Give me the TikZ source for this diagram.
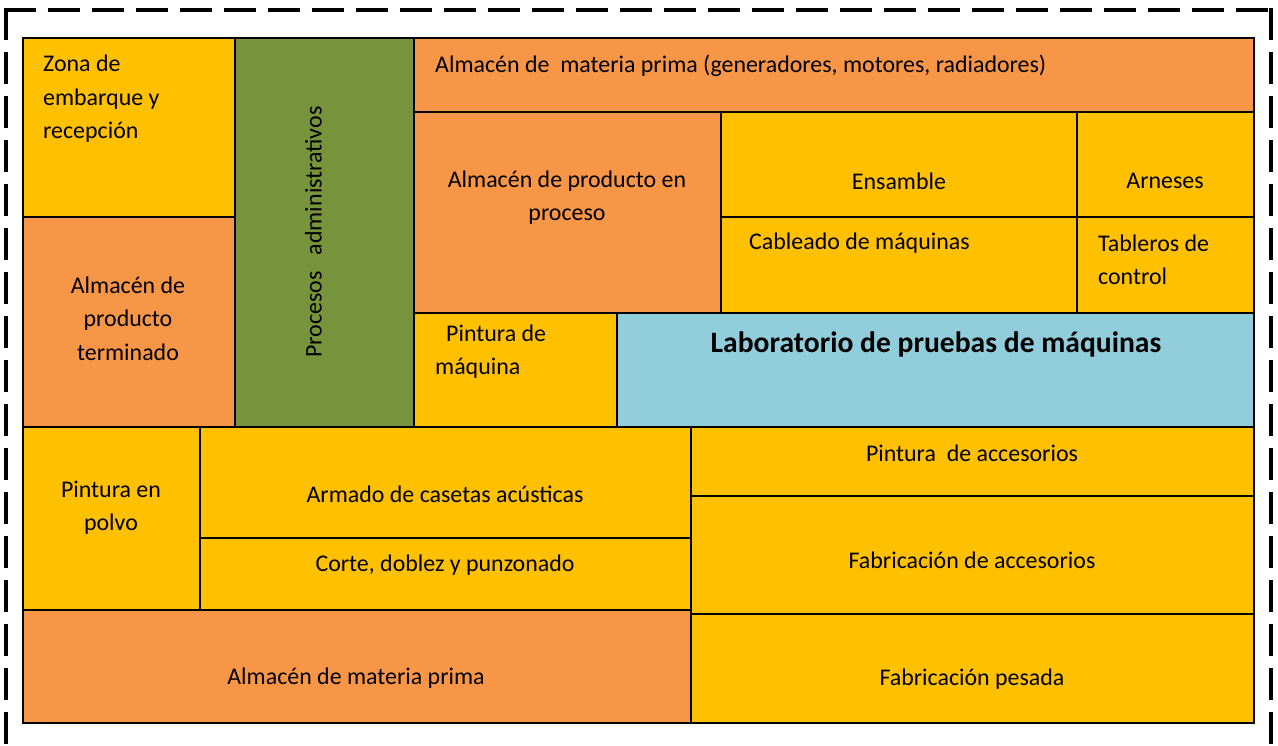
\documentclass[tikz,border=0pt]{standalone}
\usepackage{fontspec}
\setmainfont{Carlito}
\usetikzlibrary{positioning}
\definecolor{amarillo}{RGB}{255,192,0}
\definecolor{naranja}{RGB}{247,150,70}
\definecolor{verde}{RGB}{119,147,60}
\definecolor{celeste}{RGB}{146,205,220}
\tikzset{zona/.style={draw,line width=2pt},
	etiqueta/.style={font=\fontsize{23.9}{33.5}\selectfont,align=center,inner sep=0pt},
	marco/.style={line width=4pt,dash pattern=on 32pt off 12pt},
}

\begin{document}
\begin{tikzpicture}[x=1pt,y=-1pt]
		\useasboundingbox (0,0) rectangle (1278,746);
		% marco punteado
		\draw[marco] (5.5,8.3) -- (5.5,780);
		\draw[marco] (3.5,10.3) -- (1272,10.3);
		\draw[marco] (1270.5,8.3) -- (1270.5,780);
		
		% zonas
		\filldraw[zona,fill=amarillo] (22.7,38.3) rectangle (235,217);
		\filldraw[zona,fill=naranja] (22.7,217) rectangle (235,427);
		\filldraw[zona,fill=verde] (235,38.3) rectangle (414,427);
		\filldraw[zona,fill=naranja] (414,38.3) rectangle (1254,112);
		\filldraw[zona,fill=naranja] (414,112) rectangle (721,313);
		\filldraw[zona,fill=amarillo] (721,112) rectangle (1077,217);
		\filldraw[zona,fill=amarillo] (1077,112) rectangle (1254,217);
		\filldraw[zona,fill=amarillo] (721,217) rectangle (1077,313);
		\filldraw[zona,fill=amarillo] (1077,217) rectangle (1254,313);
		\filldraw[zona,fill=amarillo] (414,313) rectangle (616.5,427);
		\filldraw[zona,fill=celeste] (616.5,313) rectangle (1254,427);
		\filldraw[zona,fill=amarillo] (22.7,427) rectangle (200,609.5);
		\filldraw[zona,fill=amarillo] (200,427) rectangle (690.5,538);
		\filldraw[zona,fill=amarillo] (200,538) rectangle (690.5,609.5);
		\filldraw[zona,fill=naranja] (22.7,609.5) rectangle (690.5,723);
		\filldraw[zona,fill=amarillo] (690.5,427) rectangle (1254,496);
		\filldraw[zona,fill=amarillo] (690.5,496) rectangle (1254,614);
		\filldraw[zona,fill=amarillo] (690.5,614) rectangle (1254,723);
		
		% textos
		\node[etiqueta,anchor=west,align=left] (embarque) at (43,98.7) {Zona de\\embarque y\\recepción};
		\node[etiqueta] (terminado) at (128,318.5) {Almacén de\\producto\\terminado};
		\node[etiqueta,rotate=90] (procesos) at (313.5,232) {Procesos\ \ \ administrativos};
		\node[etiqueta,anchor=west] (mpgen) at (435,66) {Almacén de\ \ materia prima (generadores, motores, radiadores)};
		\node[etiqueta] (enproceso) at (567,197.5) {Almacén de producto en\\proceso};
		\node[etiqueta] (ensamble) at (899,181) {Ensamble};
		\node[etiqueta] (arneses) at (1165,181) {Arneses};
		\node[etiqueta,anchor=west] (cableado) at (749,243) {Cableado de máquinas};
		\node[etiqueta,anchor=west,align=left] (tableros) at (1098,260) {Tableros de\\control};
		\node[etiqueta,anchor=west,align=left] (pintmaq) at (435,351.5) {\hspace*{11pt}Pintura de\\máquina};
		\node[etiqueta,font=\fontsize{29.6}{36}\selectfont\bfseries] (laboratorio) at (936,344) {Laboratorio de pruebas de máquinas};
		\node[etiqueta] (polvo) at (111,507.5) {Pintura en\\polvo};
		\node[etiqueta] (casetas) at (445,494) {Armado de casetas acústicas};
		\node[etiqueta] (corte) at (445,565) {Corte, doblez y punzonado};
		\node[etiqueta] (materia) at (356,678) {Almacén de materia prima};
		\node[etiqueta] (pintacc) at (972,453) {Pintura\ \ de accesorios};
		\node[etiqueta] (fabacc) at (972,560) {Fabricación de accesorios};
		\node[etiqueta] (pesada) at (972,679) {Fabricación pesada};
	\end{tikzpicture}
\end{document}
